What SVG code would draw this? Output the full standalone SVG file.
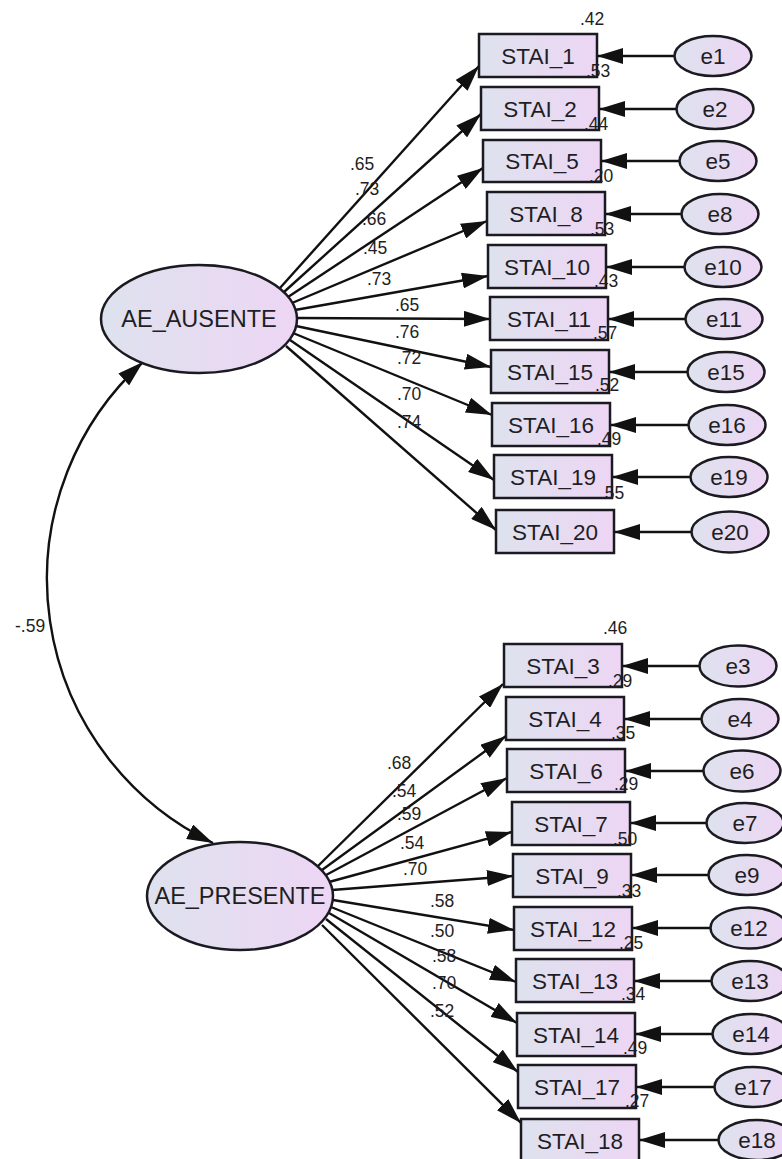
<svg xmlns="http://www.w3.org/2000/svg" width="782" height="1159" viewBox="0 0 782 1159">
<style>
.bx{fill:url(#g);stroke:#1a1a20;stroke-width:2.5}
.el{fill:url(#g);stroke:#1a1a20;stroke-width:2.5}
.t{font-family:"Liberation Sans",Arial,sans-serif;font-size:22.5px;fill:#1e1e24;text-anchor:middle}
.lt{font-family:"Liberation Sans",Arial,sans-serif;font-size:23.5px;fill:#1e1e24;text-anchor:middle}
.n{font-family:"Liberation Sans",Arial,sans-serif;font-size:17.5px;fill:#1e1e24}
.c{fill:none;stroke:#111;stroke-width:2.4}
.a{marker-end:url(#ah)}
</style>
<defs>
<linearGradient id="g" x1="0" y1="0" x2="1" y2="0">
<stop offset="0" stop-color="#dee2ee"/>
<stop offset="1" stop-color="#edd6f4"/>
</linearGradient>
<marker id="ah" markerUnits="userSpaceOnUse" markerWidth="27" markerHeight="16" refX="26" refY="8" orient="auto-start-reverse" viewBox="0 0 27 16">
<path d="M0,0 L26,8 L0,16 z" fill="#111"/>
</marker>
</defs>
<rect width="782" height="1159" fill="#fff"/>

<g id="connectors">
<path class="c" d="M143,362 A293,293 0 0 0 213,843" marker-start="url(#ah)" marker-end="url(#ah)"/>
<path class="c a" d="M280,288 L479,66"/>
<path class="c a" d="M284,292 L481,114"/>
<path class="c a" d="M288,297 L483,168"/>
<path class="c a" d="M292,303 L487,221"/>
<path class="c a" d="M295,310 L488,276"/>
<path class="c a" d="M297,318 L490,319"/>
<path class="c a" d="M296,326 L491,367"/>
<path class="c a" d="M293,333 L492,415"/>
<path class="c a" d="M290,340 L494,480"/>
<path class="c a" d="M286,346 L496,530"/>
<path class="c a" d="M318,866 L503,684"/>
<path class="c a" d="M322,870 L506,736"/>
<path class="c a" d="M326,875 L507,778"/>
<path class="c a" d="M329,882 L512,832"/>
<path class="c a" d="M332,890 L513,876"/>
<path class="c a" d="M333,900 L514,930"/>
<path class="c a" d="M331,907 L516,982"/>
<path class="c a" d="M329,913 L517,1023"/>
<path class="c a" d="M326,919 L518,1072"/>
<path class="c a" d="M322,925 L521,1123"/>
<path class="c a" d="M674.5,56 L597,56"/>
<path class="c a" d="M676.5,109 L599,109"/>
<path class="c a" d="M679.5,161 L601,161"/>
<path class="c a" d="M681.5,214 L605,214"/>
<path class="c a" d="M684.5,267 L606,267"/>
<path class="c a" d="M685.5,319 L608,319"/>
<path class="c a" d="M687.5,372 L609,372"/>
<path class="c a" d="M688.5,425 L610,425"/>
<path class="c a" d="M690.5,477 L612,477"/>
<path class="c a" d="M691.5,532 L614,532"/>
<path class="c a" d="M699.5,666 L622,666"/>
<path class="c a" d="M701.5,719 L624,719"/>
<path class="c a" d="M703.5,771 L625,771"/>
<path class="c a" d="M706.5,823 L630,823"/>
<path class="c a" d="M708.5,875 L631,875"/>
<path class="c a" d="M710.5,928 L632,928"/>
<path class="c a" d="M711.5,981 L634,981"/>
<path class="c a" d="M712.5,1034 L635,1034"/>
<path class="c a" d="M714.5,1087 L636,1087"/>
<path class="c a" d="M718.5,1140 L639,1140"/>
</g>

<g id="AE_AUSENTE"><ellipse class="el" cx="199" cy="319" rx="98" ry="54"/><text class="lt" x="199" y="327">AE_AUSENTE</text></g>
<g id="AE_PRESENTE"><ellipse class="el" cx="240" cy="896" rx="93" ry="54"/><text class="lt" x="240" y="904">AE_PRESENTE</text></g>

<g id="STAI_1"><rect class="bx" x="479" y="34" width="118" height="43"/><text class="t" x="538" y="64">STAI_1</text></g>
<g id="STAI_2"><rect class="bx" x="481" y="87" width="118" height="43"/><text class="t" x="540" y="117">STAI_2</text></g>
<g id="STAI_5"><rect class="bx" x="483" y="140" width="118" height="42"/><text class="t" x="542" y="169">STAI_5</text></g>
<g id="STAI_8"><rect class="bx" x="487" y="192" width="118" height="43"/><text class="t" x="546" y="222">STAI_8</text></g>
<g id="STAI_10"><rect class="bx" x="488" y="245" width="118" height="43"/><text class="t" x="547" y="275">STAI_10</text></g>
<g id="STAI_11"><rect class="bx" x="490" y="297" width="118" height="43"/><text class="t" x="549" y="327">STAI_11</text></g>
<g id="STAI_15"><rect class="bx" x="491" y="350" width="118" height="43"/><text class="t" x="550" y="380">STAI_15</text></g>
<g id="STAI_16"><rect class="bx" x="492" y="403" width="118" height="43"/><text class="t" x="551" y="433">STAI_16</text></g>
<g id="STAI_19"><rect class="bx" x="494" y="455" width="118" height="43"/><text class="t" x="553" y="485">STAI_19</text></g>
<g id="STAI_20"><rect class="bx" x="496" y="510" width="118" height="43"/><text class="t" x="555" y="540">STAI_20</text></g>

<g id="STAI_3"><rect class="bx" x="504" y="644" width="118" height="43"/><text class="t" x="563" y="674">STAI_3</text></g>
<g id="STAI_4"><rect class="bx" x="506" y="697" width="118" height="43"/><text class="t" x="565" y="727">STAI_4</text></g>
<g id="STAI_6"><rect class="bx" x="507" y="749" width="118" height="43"/><text class="t" x="566" y="779">STAI_6</text></g>
<g id="STAI_7"><rect class="bx" x="512" y="802" width="118" height="43"/><text class="t" x="571" y="832">STAI_7</text></g>
<g id="STAI_9"><rect class="bx" x="513" y="854" width="118" height="43"/><text class="t" x="572" y="884">STAI_9</text></g>
<g id="STAI_12"><rect class="bx" x="514" y="907" width="118" height="43"/><text class="t" x="573" y="937">STAI_12</text></g>
<g id="STAI_13"><rect class="bx" x="516" y="959" width="118" height="43"/><text class="t" x="575" y="989">STAI_13</text></g>
<g id="STAI_14"><rect class="bx" x="517" y="1013" width="118" height="43"/><text class="t" x="576" y="1043">STAI_14</text></g>
<g id="STAI_17"><rect class="bx" x="518" y="1065" width="118" height="43"/><text class="t" x="577" y="1095">STAI_17</text></g>
<g id="STAI_18"><rect class="bx" x="521" y="1119" width="118" height="43"/><text class="t" x="580" y="1149">STAI_18</text></g>

<g id="e1"><ellipse class="el" cx="713" cy="56" rx="38.5" ry="20"/><text class="t" x="713" y="64">e1</text></g>
<g id="e2"><ellipse class="el" cx="715" cy="109" rx="38.5" ry="20"/><text class="t" x="715" y="117">e2</text></g>
<g id="e5"><ellipse class="el" cx="718" cy="161" rx="38.5" ry="20"/><text class="t" x="718" y="169">e5</text></g>
<g id="e8"><ellipse class="el" cx="720" cy="214" rx="38.5" ry="20"/><text class="t" x="720" y="222">e8</text></g>
<g id="e10"><ellipse class="el" cx="723" cy="267" rx="38.5" ry="20"/><text class="t" x="723" y="275">e10</text></g>
<g id="e11"><ellipse class="el" cx="724" cy="319" rx="38.5" ry="20"/><text class="t" x="724" y="327">e11</text></g>
<g id="e15"><ellipse class="el" cx="726" cy="372" rx="38.5" ry="20"/><text class="t" x="726" y="380">e15</text></g>
<g id="e16"><ellipse class="el" cx="727" cy="425" rx="38.5" ry="20"/><text class="t" x="727" y="433">e16</text></g>
<g id="e19"><ellipse class="el" cx="729" cy="477" rx="38.5" ry="20"/><text class="t" x="729" y="485">e19</text></g>
<g id="e20"><ellipse class="el" cx="730" cy="532" rx="38.5" ry="20.5"/><text class="t" x="730" y="540">e20</text></g>

<g id="e3"><ellipse class="el" cx="738" cy="666" rx="38.5" ry="20.5"/><text class="t" x="738" y="674">e3</text></g>
<g id="e4"><ellipse class="el" cx="740" cy="719" rx="38.5" ry="20"/><text class="t" x="740" y="727">e4</text></g>
<g id="e6"><ellipse class="el" cx="742" cy="771" rx="38.5" ry="20.5"/><text class="t" x="742" y="779">e6</text></g>
<g id="e7"><ellipse class="el" cx="745" cy="823" rx="38.5" ry="20"/><text class="t" x="745" y="831">e7</text></g>
<g id="e9"><ellipse class="el" cx="747" cy="875" rx="38.5" ry="20"/><text class="t" x="747" y="883">e9</text></g>
<g id="e12"><ellipse class="el" cx="749" cy="928" rx="38.5" ry="20.5"/><text class="t" x="749" y="936">e12</text></g>
<g id="e13"><ellipse class="el" cx="750" cy="981" rx="38.5" ry="20"/><text class="t" x="750" y="989">e13</text></g>
<g id="e14"><ellipse class="el" cx="751" cy="1034" rx="38.5" ry="20"/><text class="t" x="751" y="1042">e14</text></g>
<g id="e17"><ellipse class="el" cx="753" cy="1087" rx="38.5" ry="20"/><text class="t" x="753" y="1095">e17</text></g>
<g id="e18"><ellipse class="el" cx="757" cy="1140" rx="38.5" ry="20"/><text class="t" x="757" y="1148">e18</text></g>

<g id="labels">
<text class="n" x="15" y="632">-.59</text>
<text class="n" x="350" y="170">.65</text>
<text class="n" x="355" y="195">.73</text>
<text class="n" x="362" y="225">.66</text>
<text class="n" x="363" y="254">.45</text>
<text class="n" x="367" y="285">.73</text>
<text class="n" x="395" y="311">.65</text>
<text class="n" x="395" y="338">.76</text>
<text class="n" x="397" y="364">.72</text>
<text class="n" x="397" y="400">.70</text>
<text class="n" x="397" y="428">.74</text>
<text class="n" x="580" y="25">.42</text>
<text class="n" x="586" y="77">.53</text>
<text class="n" x="584" y="130">.44</text>
<text class="n" x="589" y="182">.20</text>
<text class="n" x="590" y="235">.53</text>
<text class="n" x="594" y="287">.43</text>
<text class="n" x="593" y="339">.57</text>
<text class="n" x="595" y="391">.52</text>
<text class="n" x="597" y="445">.49</text>
<text class="n" x="600" y="499">.55</text>
<text class="n" x="387" y="769">.68</text>
<text class="n" x="392" y="797">.54</text>
<text class="n" x="397" y="820">.59</text>
<text class="n" x="400" y="849">.54</text>
<text class="n" x="403" y="875">.70</text>
<text class="n" x="430" y="907">.58</text>
<text class="n" x="430" y="937">.50</text>
<text class="n" x="432" y="962">.58</text>
<text class="n" x="432" y="989">.70</text>
<text class="n" x="430" y="1017">.52</text>
<text class="n" x="603" y="634">.46</text>
<text class="n" x="608" y="687">.29</text>
<text class="n" x="611" y="739">.35</text>
<text class="n" x="614" y="790">.29</text>
<text class="n" x="613" y="845">.50</text>
<text class="n" x="617" y="897">.33</text>
<text class="n" x="619" y="949">.25</text>
<text class="n" x="621" y="1000">.34</text>
<text class="n" x="623" y="1054">.49</text>
<text class="n" x="625" y="1107">.27</text>
</g>
</svg>
